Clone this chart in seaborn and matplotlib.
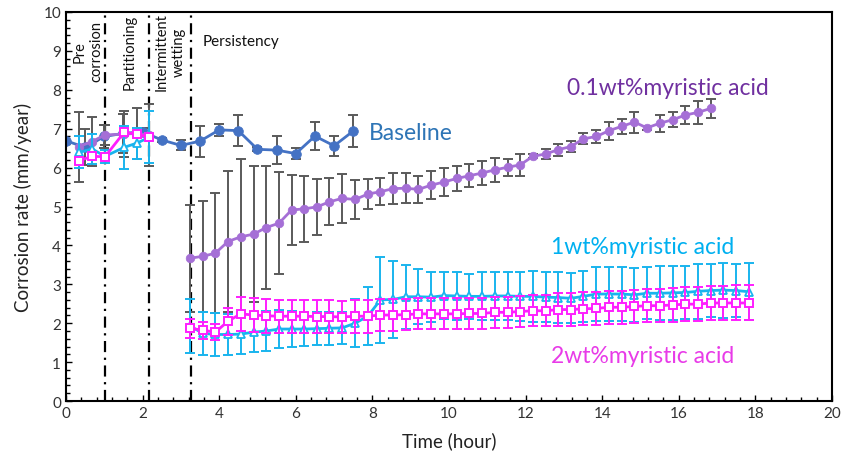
import numpy as np
import pandas as pd
import matplotlib
matplotlib.use("Agg")
import matplotlib.pyplot as plt
from matplotlib.ticker import MultipleLocator
import seaborn as sns

# ---------------- data ----------------
baseline_time = [0.0, 0.5, 1.0, 1.5, 2.0, 2.5, 3.0, 3.5, 4.0, 4.5, 5.0, 5.5, 6.0, 6.5, 7.0, 7.5]
baseline_rate = [6.69, 6.52, 6.80, 6.88, 6.92, 6.71, 6.57, 6.68, 6.97, 6.95, 6.47, 6.45, 6.36, 6.81, 6.56, 6.94]
baseline_err = [0.0, 0.46, 0.30, 0.50, 0.10, 0.05, 0.13, 0.40, 0.15, 0.40, 0.05, 0.37, 0.14, 0.35, 0.25, 0.40]

early_time = [0.34, 0.68, 1.02, 1.52, 1.85, 2.18]
early_01_rate = [6.54, 6.67, 6.84, 6.86, 6.88, 6.83]
early_01_err = [0.90, 0.64, 0.25, 0.60, 0.66, 0.80]
early_1_rate = [6.39, 6.48, 6.29, 6.52, 6.63, 6.78]
early_1_err = [0.41, 0.39, 0.17, 0.55, 0.40, 0.67]
early_2_rate = [6.18, 6.29, 6.28, 6.91, 6.86, 6.78]
early_2_err = [0.10, 0.08, 0.08, 0.10, 0.08, 0.08]

persist_time = [3.24, 3.57, 3.90, 4.23, 4.56, 4.90, 5.23, 5.56, 5.89, 6.22,
                6.55, 6.88, 7.21, 7.55, 7.88, 8.21, 8.54, 8.87, 9.20, 9.54,
                9.87, 10.20, 10.53, 10.86, 11.19, 11.53, 11.86, 12.19, 12.52, 12.85,
                13.18, 13.51, 13.85, 14.18, 14.51, 14.84, 15.17, 15.50, 15.84, 16.17,
                16.50, 16.83, 17.16, 17.49, 17.82]

p01_rate = [3.67, 3.72, 3.80, 4.10, 4.22, 4.29, 4.46, 4.57, 4.91, 4.94,
            4.99, 5.12, 5.21, 5.18, 5.32, 5.38, 5.46, 5.47, 5.44, 5.55,
            5.63, 5.72, 5.79, 5.86, 5.94, 6.01, 6.07, 6.29, 6.35, 6.46,
            6.54, 6.74, 6.80, 6.95, 7.06, 7.17, 7.02, 7.14, 7.23, 7.35,
            7.42, 7.52]
p01_err = [1.37, 1.43, 1.54, 1.80, 2.00, 1.74, 1.57, 1.31, 0.91, 0.84,
           0.72, 0.60, 0.63, 0.50, 0.38, 0.35, 0.40, 0.38, 0.35, 0.36,
           0.36, 0.33, 0.30, 0.30, 0.30, 0.22, 0.29, 0.05, 0.13, 0.15,
           0.14, 0.14, 0.17, 0.23, 0.20, 0.27, 0.05, 0.22, 0.19, 0.24,
           0.29, 0.24]

p1_rate = [1.93, 1.74, 1.71, 1.71, 1.72, 1.77, 1.80, 1.85, 1.85, 1.85,
           1.86, 1.87, 1.88, 2.00, 2.18, 2.60, 2.61, 2.68, 2.68, 2.67,
           2.71, 2.70, 2.69, 2.69, 2.70, 2.70, 2.69, 2.69, 2.67, 2.66,
           2.64, 2.69, 2.75, 2.75, 2.75, 2.73, 2.77, 2.77, 2.78, 2.79,
           2.82, 2.84, 2.85, 2.84, 2.81]
p1_err = [0.70, 0.55, 0.56, 0.52, 0.51, 0.52, 0.52, 0.50, 0.47, 0.44,
          0.43, 0.42, 0.42, 0.62, 0.74, 1.10, 0.98, 0.82, 0.71, 0.64,
          0.60, 0.61, 0.57, 0.62, 0.62, 0.62, 0.63, 0.66, 0.64, 0.65,
          0.64, 0.66, 0.69, 0.69, 0.69, 0.69, 0.67, 0.69, 0.70, 0.69,
          0.70, 0.69, 0.71, 0.69, 0.73]

p2_rate = [1.87, 1.82, 1.77, 2.05, 2.24, 2.21, 2.19, 2.18, 2.18, 2.18,
           2.17, 2.17, 2.16, 2.18, 2.18, 2.21, 2.21, 2.22, 2.24, 2.24,
           2.24, 2.24, 2.25, 2.25, 2.28, 2.28, 2.30, 2.32, 2.32, 2.35,
           2.35, 2.37, 2.38, 2.41, 2.41, 2.43, 2.45, 2.45, 2.47, 2.49,
           2.49, 2.52, 2.52, 2.52, 2.52]
p2_err = [0.25, 0.22, 0.20, 0.35, 0.44, 0.43, 0.43, 0.42, 0.42, 0.42,
          0.42, 0.42, 0.42, 0.42, 0.42, 0.42, 0.42, 0.40, 0.40, 0.40,
          0.40, 0.40, 0.40, 0.40, 0.40, 0.40, 0.40, 0.40, 0.40, 0.42,
          0.42, 0.42, 0.42, 0.42, 0.42, 0.42, 0.42, 0.42, 0.43, 0.43,
          0.43, 0.44, 0.44, 0.45, 0.45]

phase_bounds = [1.02, 2.17, 3.26]
series_labels = ["Baseline", "0.1wt%myristic acid", "1wt%myristic acid", "2wt%myristic acid"]

# ---------------- style ----------------
sns.set_style("ticks")
plt.rcParams['font.family'] = ['Lato', 'DejaVu Sans']

C_BASE = "#4472C4"
C_01 = "#A56FD6"
C_1 = "#19B4EE"
C_2 = "#FF1EFF"
C_ERR = "#5A5A5A"

fig = plt.figure(figsize=(8.47, 4.64), dpi=100)
ax = fig.add_axes([0.0779, 0.1336, 0.9044, 0.8384])


def draw(t, y, e, color, ecolor, marker, mfc, ms, mew, z):
    n = len(y)
    df = pd.DataFrame({"t": t[:n], "y": y})
    ax.errorbar(df["t"], df["y"], yerr=e, fmt="none", ecolor=ecolor,
                elinewidth=1.4, capsize=3.5, capthick=1.4, zorder=z)
    sns.lineplot(data=df, x="t", y="y", ax=ax, color=color, marker=marker,
                 markersize=ms, markerfacecolor=mfc, markeredgecolor=color,
                 markeredgewidth=mew, linewidth=2.0, errorbar=None,
                 legend=False, sort=False, zorder=z + 0.5)


draw(baseline_time, baseline_rate, baseline_err, C_BASE, C_ERR, "o", C_BASE, 7.0, 0.5, 2)
draw(early_time, early_01_rate, early_01_err, C_01, C_ERR, "o", C_01, 6.2, 0.5, 3)
draw(persist_time, p01_rate, p01_err, C_01, C_ERR, "o", C_01, 6.2, 0.5, 3)
draw(early_time, early_1_rate, early_1_err, C_1, C_1, "^", "white", 5.5, 1.3, 4)
draw(persist_time, p1_rate, p1_err, C_1, C_1, "^", "white", 5.5, 1.3, 4)
draw(early_time, early_2_rate, early_2_err, C_2, C_2, "s", "white", 5.2, 1.4, 5)
draw(persist_time, p2_rate, p2_err, C_2, C_2, "s", "white", 5.2, 1.4, 5)

for b in phase_bounds:
    ax.axvline(b, color="black", lw=1.6, dashes=(5, 2.5, 1, 2.5), zorder=1)

# phase labels
ax.text(0.58, 9.0, "Pre\ncorrosion", rotation=90, ha="center", va="center",
        multialignment="center", fontsize=10.5, color="#111111")
ax.text(1.67, 9.0, "Partitioning", rotation=90, ha="center", va="center",
        fontsize=10.5, color="#111111")
ax.text(2.72, 9.0, "Intermittent\nwetting", rotation=90, ha="center", va="center",
        multialignment="center", fontsize=10.5, color="#111111")
ax.text(3.58, 9.25, "Persistency", ha="left", va="center", fontsize=11, color="#111111")

# series labels
ax.text(7.9, 6.89, series_labels[0], color="#2E75B6", fontsize=16.5, ha="left", va="center")
ax.text(13.08, 8.07, series_labels[1], color="#7030A0", fontsize=16.5, ha="left", va="center")
ax.text(12.66, 3.98, series_labels[2], color="#00B0F0", fontsize=16.5, ha="left", va="center")
ax.text(12.66, 1.18, series_labels[3], color="#E83BE8", fontsize=16.5, ha="left", va="center")

ax.set_xlim(0, 20)
ax.set_ylim(0, 10)
ax.xaxis.set_major_locator(MultipleLocator(2))
ax.xaxis.set_minor_locator(MultipleLocator(0.4))
ax.yaxis.set_major_locator(MultipleLocator(1))
ax.yaxis.set_minor_locator(MultipleLocator(0.2))
ax.tick_params(which="both", direction="in", colors="black", labelcolor="#333333",
               labelsize=11, width=1.0)
ax.tick_params(which="major", length=4)
ax.tick_params(which="minor", length=3)
for s in ax.spines.values():
    s.set_visible(True)
    s.set_color("black")
    s.set_linewidth(1.5)

ax.set_xlabel("Time (hour)", fontsize=13.5, color="#222222", labelpad=8)
ax.set_ylabel("Corrosion rate (mm/year)", fontsize=13.5, color="#222222", labelpad=8)

fig.savefig("out.png", dpi=100)
